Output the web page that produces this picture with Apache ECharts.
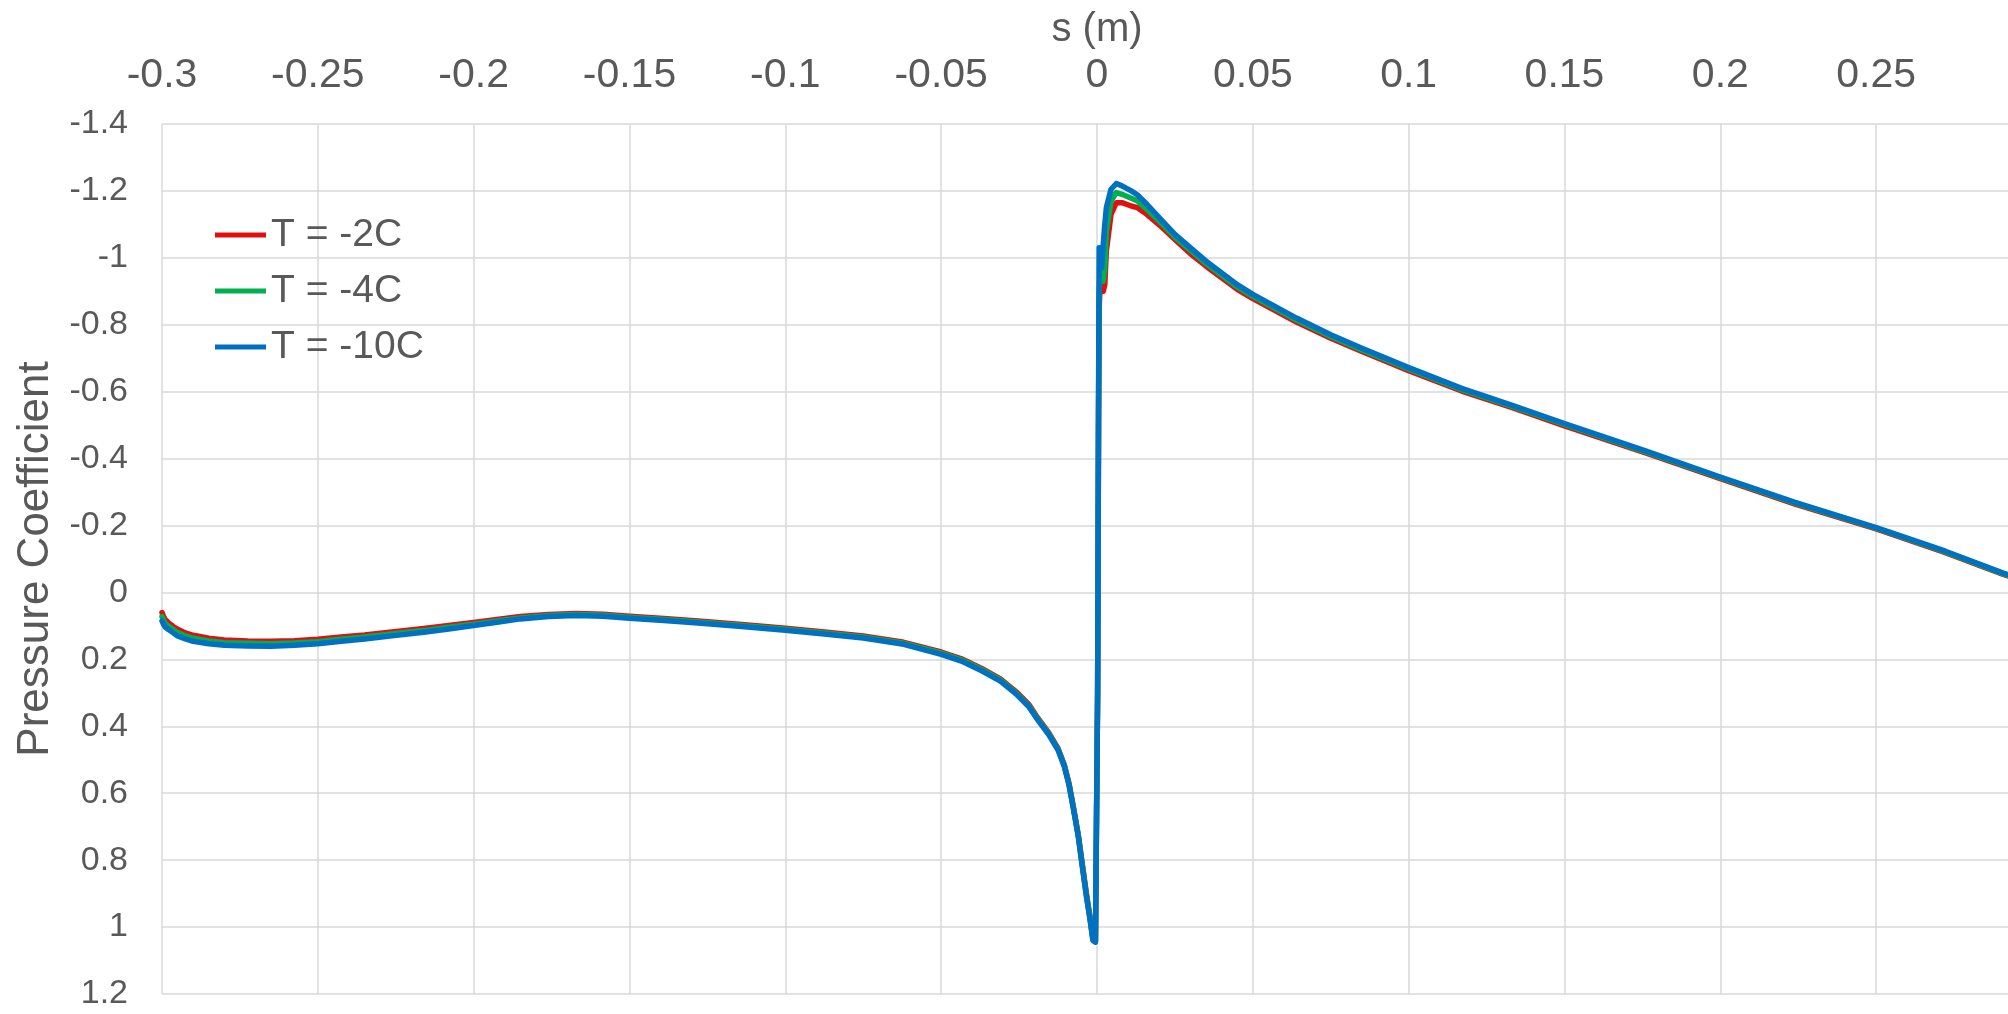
<!DOCTYPE html>
<html>
<head>
<meta charset="utf-8">
<script src="https://cdn.jsdelivr.net/npm/echarts@6/dist/echarts.min.js"></script>
<style>
html,body{margin:0;padding:0;background:#fff;}
#chart{width:2008px;height:1014px;}
</style>
</head>
<body>
<div id="chart"></div>
<script>
// Surface distance s (m)
var sValues = [-0.3, -0.2995, -0.299, -0.298, -0.2965, -0.295, -0.2925, -0.29, -0.285, -0.28,
  -0.2725, -0.265, -0.2575, -0.25, -0.2425, -0.235, -0.2255, -0.216, -0.208, -0.2,
  -0.1925, -0.185, -0.176, -0.167, -0.1585, -0.15, -0.139, -0.128, -0.114, -0.1,
  -0.0875, -0.075, -0.062, -0.05, -0.043, -0.037, -0.031, -0.026, -0.022, -0.019,
  -0.0155, -0.0125, -0.0105, -0.009, -0.0075, -0.006, -0.0047, -0.0034, -0.0022, -0.0013,
  -0.0005, 0.0002, 0.0005, 0.0007, 0.001, 0.0015, 0.002, 0.0025, 0.003, 0.0045,
  0.0062, 0.008, 0.011, 0.013, 0.016, 0.021, 0.025, 0.03, 0.035, 0.04,
  0.045, 0.05, 0.064, 0.075, 0.085, 0.1, 0.117, 0.133, 0.15, 0.176,
  0.2, 0.224, 0.25, 0.272, 0.291, 0.3];

// Pressure coefficient, T = -2C
var cpT2 = [0.06, 0.072, 0.081, 0.09, 0.101, 0.11, 0.121, 0.128, 0.137, 0.142,
  0.145, 0.146, 0.144, 0.14, 0.133, 0.127, 0.117, 0.108, 0.099, 0.09,
  0.081, 0.072, 0.066, 0.063, 0.065, 0.071, 0.078, 0.085, 0.096, 0.107,
  0.118, 0.13, 0.149, 0.178, 0.2, 0.227, 0.258, 0.296, 0.333, 0.375,
  0.419, 0.466, 0.515, 0.57, 0.645, 0.725, 0.813, 0.9, 0.973, 1.035,
  1.04, 0.3, -0.5, -0.85, -0.92, -0.94, -0.9, -0.92, -1.02, -1.13,
  -1.165, -1.165, -1.155, -1.15, -1.13, -1.09, -1.055, -1.012, -0.975, -0.94,
  -0.906, -0.878, -0.808, -0.76, -0.72, -0.663, -0.602, -0.553, -0.498, -0.417,
  -0.34, -0.264, -0.19, -0.12, -0.053, -0.027];

// Pressure coefficient, T = -4C
var cpT4 = [0.072, 0.083, 0.092, 0.1, 0.11, 0.12, 0.13, 0.137, 0.145, 0.15,
  0.152, 0.153, 0.151, 0.147, 0.14, 0.133, 0.123, 0.114, 0.104, 0.095,
  0.085, 0.076, 0.069, 0.066, 0.068, 0.074, 0.081, 0.088, 0.099, 0.11,
  0.121, 0.133, 0.152, 0.181, 0.203, 0.23, 0.261, 0.3, 0.337, 0.378,
  0.422, 0.468, 0.517, 0.572, 0.647, 0.727, 0.816, 0.904, 0.976, 1.038,
  1.042, 0.3, -0.55, -0.9, -0.96, -0.97, -0.93, -0.97, -1.08, -1.17,
  -1.195, -1.19, -1.178, -1.17, -1.145, -1.1, -1.062, -1.022, -0.983, -0.948,
  -0.913, -0.885, -0.814, -0.765, -0.725, -0.668, -0.606, -0.557, -0.502, -0.42,
  -0.343, -0.267, -0.192, -0.122, -0.055, -0.028];

// Pressure coefficient, T = -10C
var cpT10 = [0.085, 0.095, 0.103, 0.11, 0.12, 0.13, 0.139, 0.146, 0.153, 0.158,
  0.16, 0.161, 0.158, 0.153, 0.146, 0.139, 0.129, 0.119, 0.109, 0.099,
  0.089, 0.079, 0.072, 0.069, 0.071, 0.077, 0.084, 0.091, 0.102, 0.113,
  0.124, 0.136, 0.155, 0.185, 0.207, 0.234, 0.265, 0.303, 0.34, 0.381,
  0.425, 0.471, 0.52, 0.575, 0.65, 0.73, 0.82, 0.908, 0.98, 1.04,
  1.045, 0.3, -0.6, -1.03, -1.02, -0.97, -1.04, -1.1, -1.15, -1.205,
  -1.222, -1.215, -1.2, -1.188, -1.16, -1.11, -1.07, -1.03, -0.99, -0.955,
  -0.92, -0.891, -0.82, -0.77, -0.73, -0.672, -0.61, -0.56, -0.505, -0.423,
  -0.345, -0.269, -0.194, -0.124, -0.057, -0.03];

var seriesNames = ['T = -2C', 'T = -4C', 'T = -10C'];
var seriesColors = ['#e01010', '#00b050', '#0070c0'];
var xTitle = 's (m)';
var yTitle = 'Pressure Coefficient';

function pairs(ys) { return sValues.map(function (s, i) { return [s, ys[i]]; }); }
var allCp = [cpT2, cpT4, cpT10];

var chart = echarts.init(document.getElementById('chart'), null, {renderer: 'canvas'});
var font = '"Liberation Sans", Arial, sans-serif';
chart.setOption({
  animation: false,
  backgroundColor: '#ffffff',
  grid: {left: 162, top: 124, right: -24, bottom: 20, outerBoundsMode: 'none', containLabel: false},
  legend: {
    orient: 'vertical', left: 210, top: 208,
    itemWidth: 51, itemHeight: 5, itemGap: 12, icon: 'rect',
    textStyle: {fontFamily: font, fontSize: 39, color: '#595959', lineHeight: 44},
    data: seriesNames
  },
  xAxis: {
    type: 'value', position: 'top', min: -0.3, max: 0.3, interval: 0.05,
    name: xTitle, nameLocation: 'middle', nameGap: 72,
    nameTextStyle: {fontFamily: font, fontSize: 40, color: '#595959'},
    axisLine: {show: false}, axisTick: {show: false},
    axisLabel: {fontFamily: font, fontSize: 41, color: '#595959', margin: 28,
      formatter: function (v) { return v > 0.29 ? '' : String(parseFloat(v.toFixed(2))); }},
    splitLine: {show: true, lineStyle: {color: '#d9d9d9', width: 1.5}}
  },
  yAxis: {
    type: 'value', inverse: true, min: -1.4, max: 1.2, interval: 0.2,
    name: yTitle, nameLocation: 'middle', nameGap: 104, nameRotate: 90,
    nameTextStyle: {fontFamily: font, fontSize: 44, color: '#595959'},
    axisLine: {show: false}, axisTick: {show: false},
    axisLabel: {fontFamily: font, fontSize: 34, color: '#595959', margin: 34,
      formatter: function (v) { return String(parseFloat(v.toFixed(1))); }},
    splitLine: {show: true, lineStyle: {color: '#d9d9d9', width: 1.5}}
  },
  series: seriesNames.map(function (n, i) {
    return {
      name: n, type: 'line', showSymbol: false, symbol: 'none', smooth: false,
      color: seriesColors[i],
      lineStyle: {color: seriesColors[i], width: 5.5, join: 'round', cap: 'round'},
      itemStyle: {color: seriesColors[i]},
      data: pairs(allCp[i]), z: 2 + i
    };
  })
});
</script>
</body>
</html>
